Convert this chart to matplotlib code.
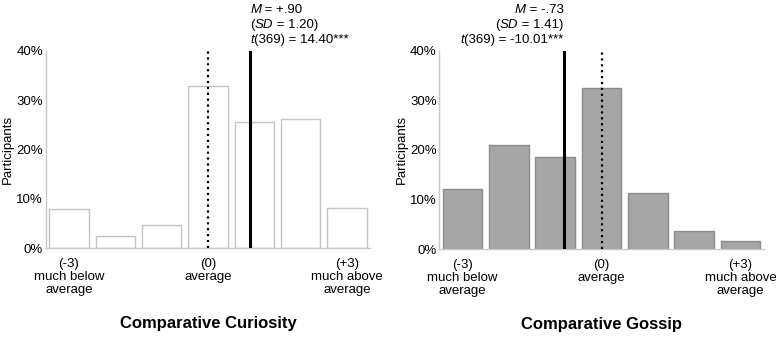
import numpy as np
import matplotlib
matplotlib.use("Agg")
import matplotlib.pyplot as plt

plt.rcParams['font.family'] = ['Liberation Sans', 'DejaVu Sans']

# response scale and percentages
scale = [-3, -2, -1, 0, 1, 2, 3]
curiosity_pct = [7.9, 2.4, 4.7, 32.8, 25.5, 26.1, 8.1]
gossip_pct = [12.2, 20.9, 18.6, 32.4, 11.4, 3.6, 1.7]

tick_pos = [-3, 0, 3]
tick_labels = ["(-3)\nmuch below\naverage", "(0)\naverage", "(+3)\nmuch above\naverage"]
y_ticks = [0, 10, 20, 30, 40]

# mean lines (as drawn) and annotations: list of lines, each a list of (text, italic)
curiosity_mean = 0.92
gossip_mean = -0.82
curiosity_note = [
    [("M", True), (" = +.90", False)],
    [("(", False), ("SD", True), (" = 1.20)", False)],
    [("t", True), ("(369) = 14.40***", False)],
]
gossip_note = [
    [("M", True), (" = -.73", False)],
    [("(", False), ("SD", True), (" = 1.41)", False)],
    [("t", True), ("(369) = -10.01***", False)],
]


def draw_note(ax, x, lines, left):
    # stack lines upward from the top of the axes, pieces chained side by side
    n = len(lines)
    for i, segs in enumerate(lines):
        off = 3.4 + (n - 1 - i) * 10.8
        style = lambda it: "italic" if it else "normal"
        if left:
            txt, it = segs[0]
            prev = ax.annotate(txt, xy=(x, 40), xycoords="data", xytext=(0, off),
                               textcoords="offset points", ha="left", va="bottom",
                               fontsize=9.5, fontstyle=style(it), annotation_clip=False)
            for txt, it in segs[1:]:
                prev = ax.annotate(txt, xy=(1, 0), xycoords=prev, ha="left", va="bottom",
                                   fontsize=9.5, fontstyle=style(it))
        else:
            txt, it = segs[-1]
            prev = ax.annotate(txt, xy=(x, 40), xycoords="data", xytext=(0, off),
                               textcoords="offset points", ha="right", va="bottom",
                               fontsize=9.5, fontstyle=style(it), annotation_clip=False)
            for txt, it in reversed(segs[:-1]):
                prev = ax.annotate(txt, xy=(0, 0), xycoords=prev, ha="right", va="bottom",
                                   fontsize=9.5, fontstyle=style(it))


def draw_panel(ax, values, mean, note, title, face, edge, note_left):
    ax.bar(scale, values, width=0.85, color=face, edgecolor=edge, linewidth=1.0, zorder=2)
    ax.plot([0, 0], [0, 40], color="black", linestyle=":", linewidth=1.6, zorder=3)
    ax.plot([mean, mean], [0, 40], color="black", linewidth=2.2, zorder=3)
    ax.set_xlim(-3.5, 3.5)
    ax.set_ylim(0, 40)
    ax.set_yticks(y_ticks)
    ax.set_yticklabels([f"{v}%" for v in y_ticks], fontsize=9.5)
    ax.set_xticks(tick_pos)
    ax.set_xticklabels(tick_labels, fontsize=9.5, linespacing=1.1)
    ax.tick_params(axis="both", length=0)
    ax.tick_params(axis="x", pad=7)
    ax.tick_params(axis="y", pad=2)
    for s in ["top", "right"]:
        ax.spines[s].set_visible(False)
    for s in ["left", "bottom"]:
        ax.spines[s].set_color("#c8c8c8")
        ax.spines[s].set_linewidth(1.0)
    ax.text(-0.116, 0.5, "Participants", transform=ax.transAxes, rotation=90,
            ha="center", va="center", fontsize=9.5)
    ax.text(0.5, -0.38, title, transform=ax.transAxes, ha="center", va="center",
            fontsize=12, fontweight="bold")
    draw_note(ax, mean, note, note_left)


fig = plt.figure(figsize=(7.79, 3.37), dpi=100)
ax1 = fig.add_axes([0.0587, 0.264, 0.4163, 0.5855])
ax2 = fig.add_axes([0.564, 0.261, 0.4163, 0.5885])

draw_panel(ax1, curiosity_pct, curiosity_mean, curiosity_note, "Comparative Curiosity",
           "white", "#c4c4c4", True)
draw_panel(ax2, gossip_pct, gossip_mean, gossip_note, "Comparative Gossip",
           "#a6a6a6", "#8c8c8c", False)

fig.savefig("out.png", dpi=100)
